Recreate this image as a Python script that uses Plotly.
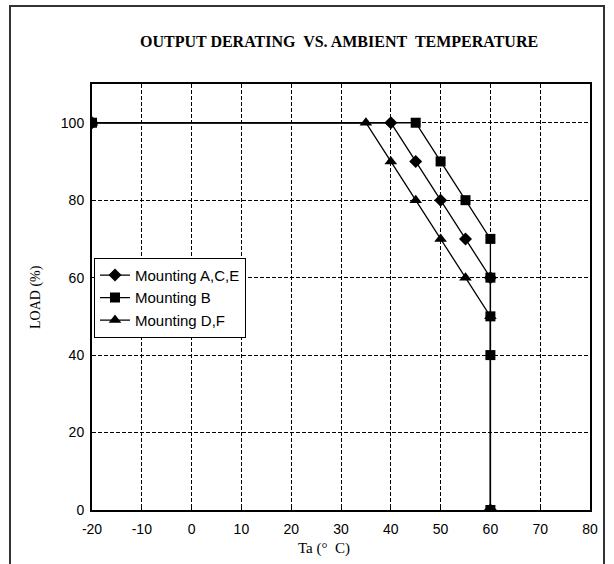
import plotly.graph_objects as go

# Data
x_ace = [-20, 40, 45, 50, 55, 60, 60]
y_ace = [100, 100, 90, 80, 70, 60, 0]
x_b = [-20, 45, 50, 55, 60, 60, 60, 60, 60]
y_b = [100, 100, 90, 80, 70, 60, 50, 40, 0]
x_df = [-20, 35, 40, 45, 50, 55, 60, 60]
y_df = [100, 100, 90, 80, 70, 60, 50, 0]
x_ticks = [-20, -10, 0, 10, 20, 30, 40, 50, 60, 70, 80]
x_ticktext = ["-20", "-10", "0", "10", "20", "30", "40", "50", "60", "70", "80"]
y_ticks = [0, 20, 40, 60, 80, 100]

fig = go.Figure()
line = dict(color="black", width=1.3)
fig.add_trace(go.Scatter(x=x_df, y=y_df, mode="lines+markers", name="Mounting D,F",
                         line=line, legendrank=3,
                         marker=dict(symbol="triangle-up", size=11, color="black")))
fig.add_trace(go.Scatter(x=x_ace, y=y_ace, mode="lines+markers", name="Mounting A,C,E",
                         line=line, legendrank=1,
                         marker=dict(symbol="diamond", size=10, color="black")))
fig.add_trace(go.Scatter(x=x_b, y=y_b, mode="lines+markers", name="Mounting B",
                         line=line, legendrank=2,
                         marker=dict(symbol="square", size=10, color="black")))

axis_common = dict(showline=True, linecolor="black", linewidth=2, mirror=True,
                   showgrid=True, gridcolor="black", gridwidth=1, griddash="4px,2px",
                   zeroline=False,
                   tickfont=dict(family="Liberation Sans", size=14, color="black"))

fig.update_xaxes(range=[-20, 80], tickvals=x_ticks, ticktext=x_ticktext,
                 ticks="inside", ticklen=4, tickcolor="black",
                 ticklabelstandoff=5, **axis_common)
fig.update_yaxes(range=[0, 110], tickvals=y_ticks, ticks="",
                 ticklabelstandoff=3, **axis_common)

fig.update_layout(
    width=614, height=564,
    margin=dict(l=92, r=24, t=84, b=54),
    paper_bgcolor="white", plot_bgcolor="white",
    showlegend=True,
    legend=dict(x=0.004, y=0.592, xanchor="left", yanchor="top",
                bgcolor="white", bordercolor="black", borderwidth=1,
                font=dict(family="Liberation Sans", size=15, color="black"),
                itemwidth=30, tracegroupgap=0),
    shapes=[dict(type="rect", xref="paper", yref="paper",
                 x0=(10 - 92) / 498, x1=(604 - 92) / 498,
                 y0=-0.3, y1=(510 - 6) / 426,
                 line=dict(color="#333333", width=2), layer="below")],
    annotations=[
        dict(text="<b>OUTPUT DERATING\u00a0 VS. AMBIENT\u00a0 TEMPERATURE</b>",
             xref="paper", yref="paper", x=0.495, y=(510 - 42) / 426,
             showarrow=False, font=dict(family="Liberation Serif", size=16, color="black"),
             xanchor="center", yanchor="middle"),
        dict(text="LOAD (%)", xref="paper", yref="paper",
             x=(36 - 92) / 498, y=(510 - 297) / 426, textangle=-90,
             showarrow=False, font=dict(family="Liberation Serif", size=14, color="black"),
             xanchor="center", yanchor="middle"),
        dict(text="Ta (\u00b0\u00a0\u00a0C)", xref="paper", yref="paper",
             x=(324 - 92) / 498, y=(510 - 548) / 426,
             showarrow=False, font=dict(family="Liberation Serif", size=15, color="black"),
             xanchor="center", yanchor="middle"),
    ],
)

fig.write_html("out.html", config={"displayModeBar": False},
               post_script="document.body.style.margin='0px';")
